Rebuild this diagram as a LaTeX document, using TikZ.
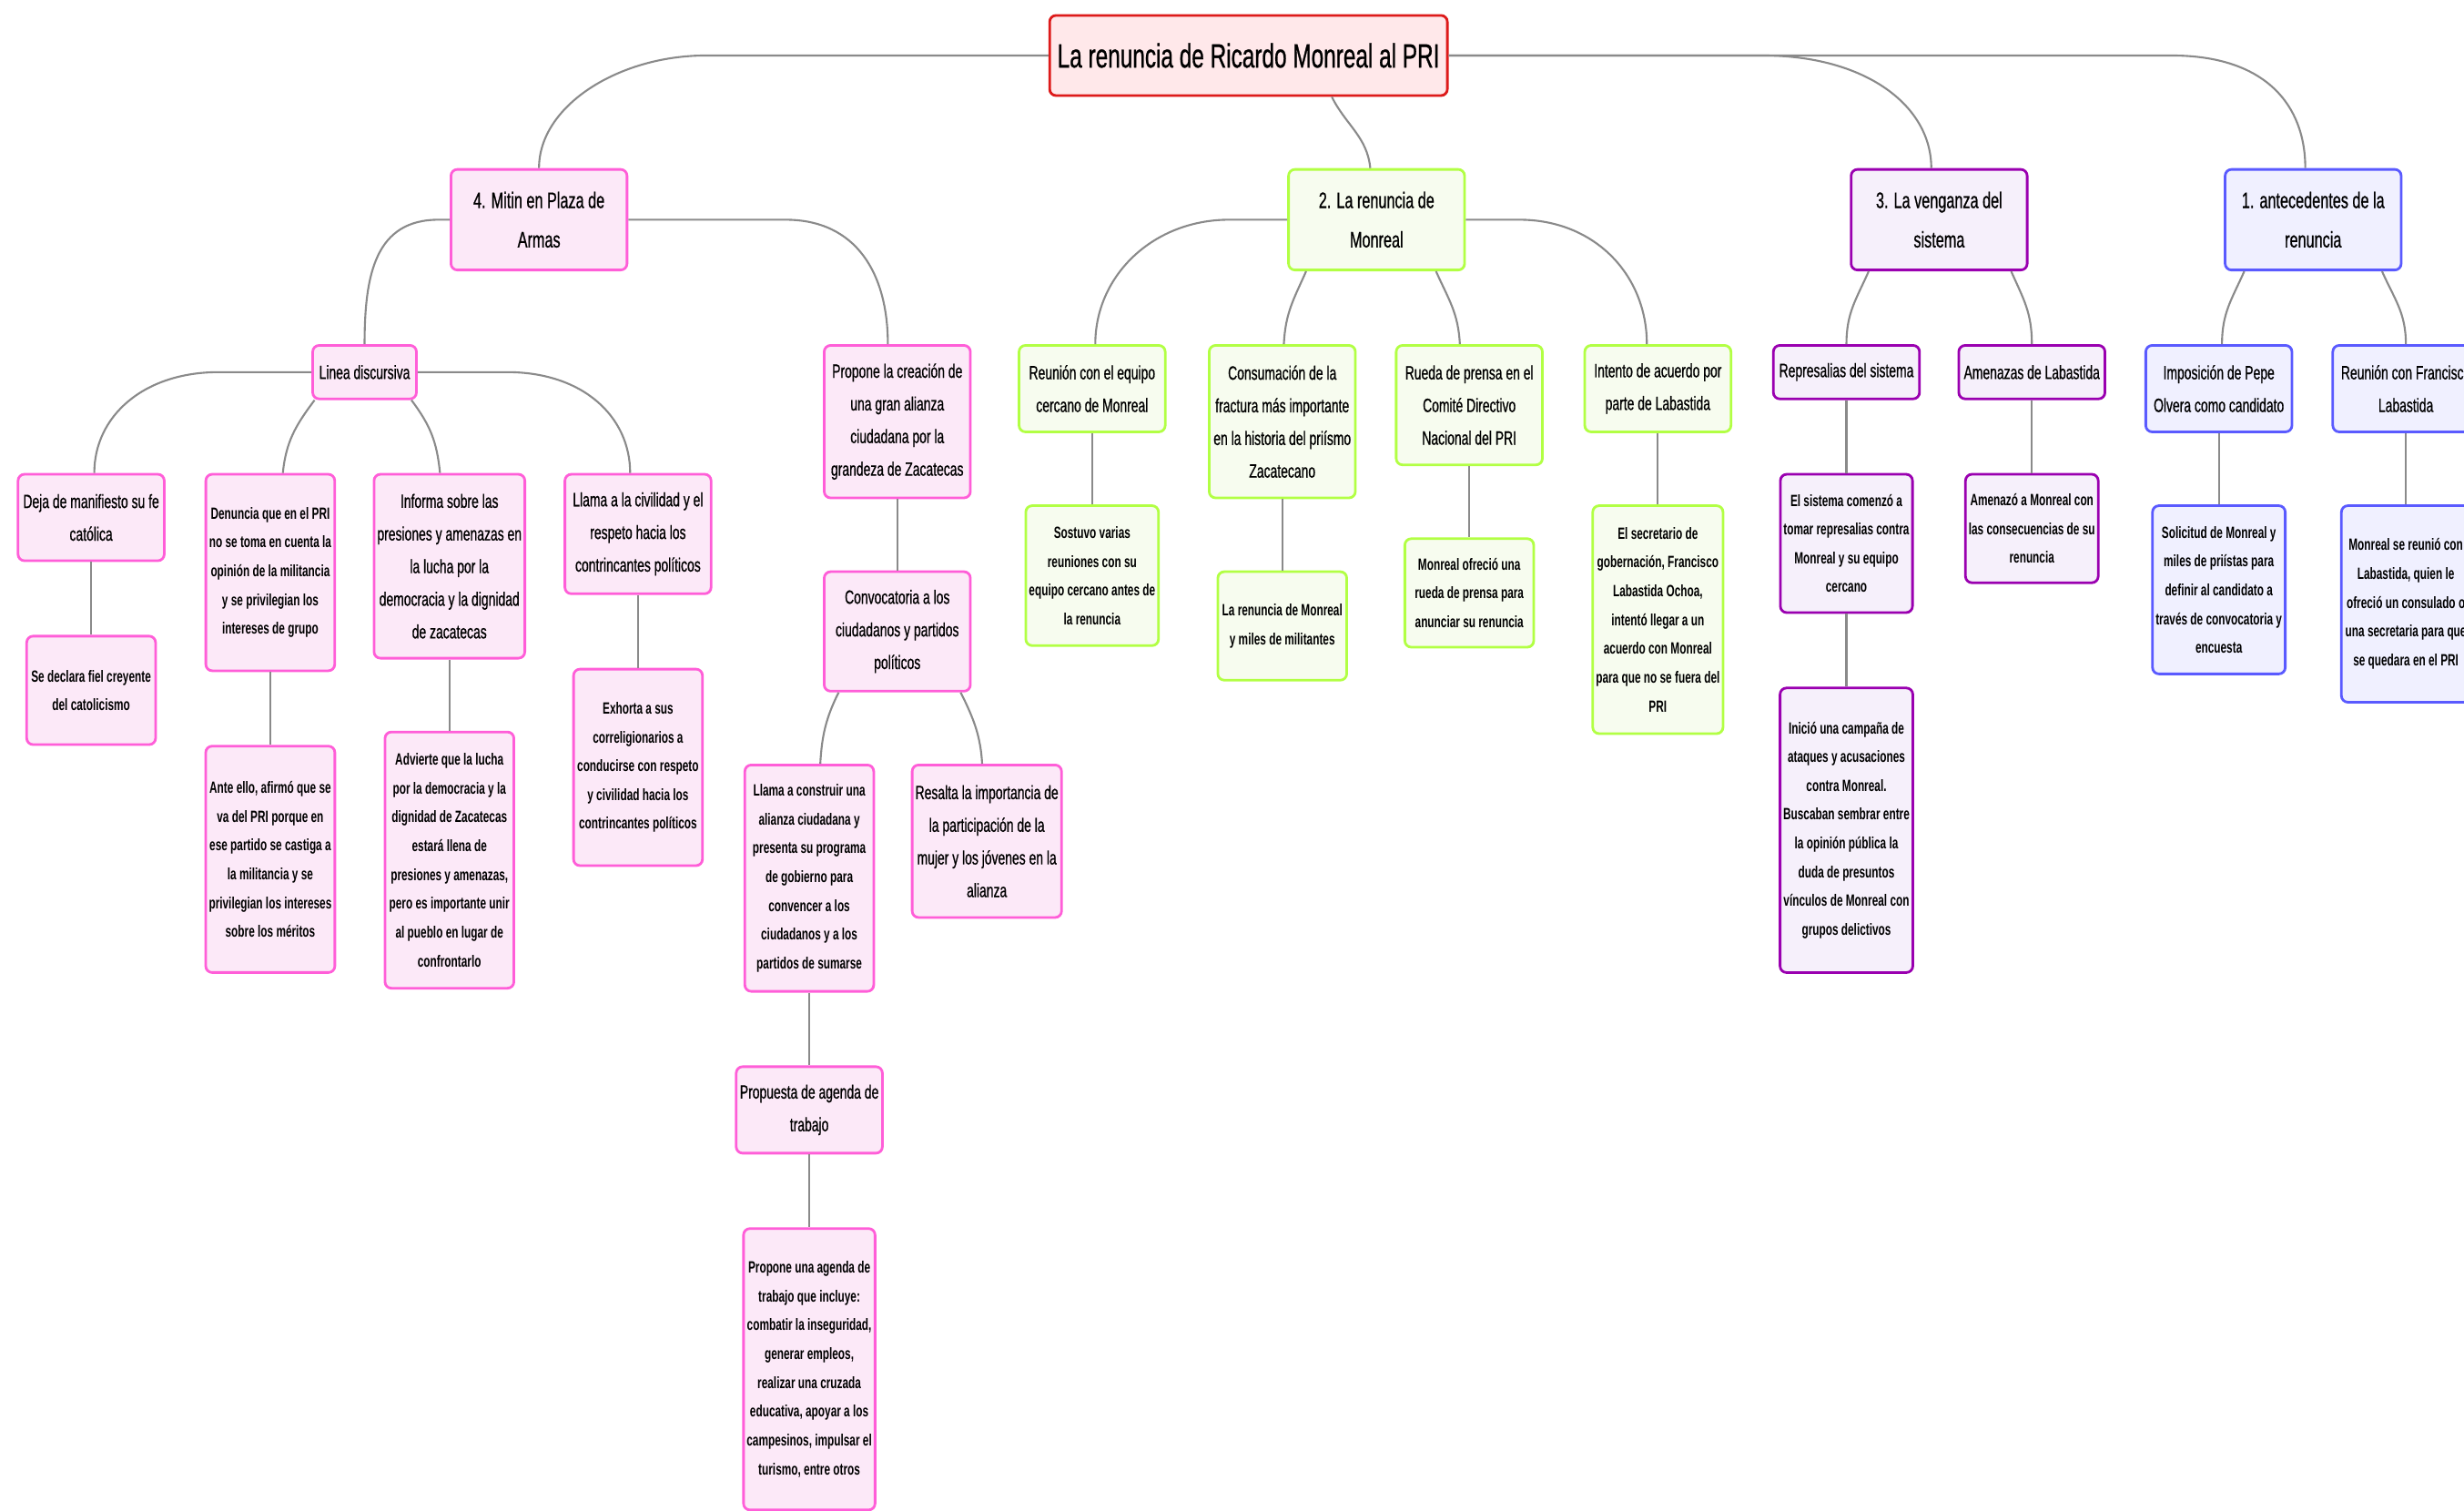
\documentclass[tikz,border=0pt]{standalone}
\usepackage{fontspec}
\setmainfont{Liberation Sans}[FakeStretch=0.66, UprightFeatures={FakeBold=0.7}]
\usetikzlibrary{calc}

\definecolor{rootline}{HTML}{DD1A1A}
\definecolor{rootfill}{HTML}{FFE8EA}
\definecolor{pinkline}{HTML}{FF5ED8}
\definecolor{pinkfill}{HTML}{FCE9F8}
\definecolor{greenline}{HTML}{B2FF44}
\definecolor{greenfill}{HTML}{F7FCEF}
\definecolor{purpleline}{HTML}{9A00B0}
\definecolor{purplefill}{HTML}{F6F0FB}
\definecolor{blueline}{HTML}{5A5AFF}
\definecolor{bluefill}{HTML}{F0F0FF}
\definecolor{linkgray}{HTML}{8A8A8A}

\tikzset{
  caja/.style={draw, rounded corners=2pt, line width=0.8pt, align=center,
    anchor=north, inner xsep=1pt, inner ysep=1pt},
  alto/.style={minimum height={#1*0.4912pt}},
  ancho/.style={minimum width={#1*0.4912pt}},
  raiz/.style={caja, draw=rootline, fill=rootfill, ancho=253, alto=51,
    font=\fontsize{10.5}{13}\selectfont},
  tema/.style={caja, ancho=112, alto=64, font=\fontsize{7}{12.3}\selectfont},
  subtema/.style={caja, ancho=93, font=\fontsize{6}{10.2}\selectfont},
  hoja/.style={caja, ancho=82, font=\bfseries\fontsize{5.1}{9}\selectfont},
  rosa/.style={draw=pinkline, fill=pinkfill},
  verde/.style={draw=greenline, fill=greenfill},
  morado/.style={draw=purpleline, fill=purplefill},
  azul/.style={draw=blueline, fill=bluefill},
  enlace/.style={draw=linkgray, line width=0.6pt},
}

\begin{document}
\begin{tikzpicture}[x=0.017264cm, y=-0.017264cm]
  \clip (0,0) rectangle (1568,961);

  % tema central
  \node[raiz] (root) at (794.5,9) {La renuncia de Ricardo Monreal al PRI};

  % temas principales
  \node[tema, rosa] (mitin) at (343,107) {4. Mitin en Plaza de\\Armas};
  \node[tema, verde] (dos) at (876,107) {2. La renuncia de\\Monreal};
  \node[tema, morado] (tres) at (1234,107) {3. La venganza del\\sistema};
  \node[tema, azul] (uno) at (1472,107) {1. antecedentes de la\\renuncia};

  % rama 4: mitin en plaza de armas
  \node[subtema, rosa, ancho=66, alto=34] (linea) at (232,219) {Linea discursiva};
  \node[subtema, rosa, alto=97] (propone) at (571,219) {Propone la creación de\\una gran alianza\\ciudadana por la\\grandeza de Zacatecas};
  \node[subtema, rosa, alto=55] (deja) at (58,301) {Deja de manifiesto su fe\\católica};
  \node[hoja, rosa, alto=125] (denuncia) at (172,301) {Denuncia que en el PRI\\no se toma en cuenta la\\opinión de la militancia\\y se privilegian los\\intereses de grupo};
  \node[subtema, rosa, alto=117] (informa) at (286,301) {Informa sobre las\\presiones y amenazas en\\la lucha por la\\democracia y la dignidad\\de zacatecas};
  \node[subtema, rosa, alto=76] (llama) at (406,301) {Llama a la civilidad y el\\respeto hacia los\\contrincantes políticos};
  \node[hoja, rosa, alto=69] (declara) at (58,404) {Se declara fiel creyente\\del catolicismo};
  \node[hoja, rosa, alto=144] (ante) at (172,474) {Ante ello, afirmó que se\\va del PRI porque en\\ese partido se castiga a\\la militancia y se\\privilegian los intereses\\sobre los méritos};
  \node[hoja, rosa, alto=163] (advierte) at (286,465) {Advierte que la lucha\\por la democracia y la\\dignidad de Zacatecas\\estará llena de\\presiones y amenazas,\\pero es importante unir\\al pueblo en lugar de\\confrontarlo};
  \node[hoja, rosa, alto=125] (exhorta) at (406,425) {Exhorta a sus\\correligionarios a\\conducirse con respeto\\y civilidad hacia los\\contrincantes políticos};
  \node[subtema, rosa, alto=76] (convoca) at (571,363) {Convocatoria a los\\ciudadanos y partidos\\políticos};
  \node[hoja, rosa, alto=144] (construir) at (515,486) {Llama a construir una\\alianza ciudadana y\\presenta su programa\\de gobierno para\\convencer a los\\ciudadanos y a los\\partidos de sumarse};
  \node[subtema, rosa, alto=97] (resalta) at (628,486) {Resalta la importancia de\\la participación de la\\mujer y los jóvenes en la\\alianza};
  \node[subtema, rosa, alto=55] (propuesta) at (515,678) {Propuesta de agenda de\\trabajo};
  \node[hoja, rosa, alto=179] (agenda) at (515,781) {Propone una agenda de\\trabajo que incluye:\\combatir la inseguridad,\\generar empleos,\\realizar una cruzada\\educativa, apoyar a los\\campesinos, impulsar el\\turismo, entre otros};

  % rama 2: la renuncia de monreal
  \node[subtema, verde, alto=55] (reunion) at (695,219) {Reunión con el equipo\\cercano de Monreal};
  \node[subtema, verde, alto=97] (consuma) at (816,219) {Consumación de la\\fractura más importante\\en la historia del priísmo\\Zacatecano};
  \node[subtema, verde, alto=76] (rueda) at (935,219) {Rueda de prensa en el\\Comité Directivo\\Nacional del PRI};
  \node[subtema, verde, alto=55] (intento) at (1055,219) {Intento de acuerdo por\\parte de Labastida};
  \node[hoja, verde, alto=89] (sostuvo) at (695,321) {Sostuvo varias\\reuniones con su\\equipo cercano antes de\\la renuncia};
  \node[hoja, verde, alto=69] (miles) at (816,363) {La renuncia de Monreal\\y miles de militantes};
  \node[hoja, verde, alto=69] (ofrecio) at (935,342) {Monreal ofreció una\\rueda de prensa para\\anunciar su renuncia};
  \node[hoja, verde, alto=145] (secretario) at (1055,321) {El secretario de\\gobernación, Francisco\\Labastida Ochoa,\\intentó llegar a un\\acuerdo con Monreal\\para que no se fuera del\\PRI};

  % rama 3: la venganza del sistema
  \node[subtema, morado, alto=34] (represalias) at (1175,219) {Represalias del sistema};
  \node[subtema, morado, alto=34] (amenazas) at (1293,219) {Amenazas de Labastida};
  \node[hoja, morado, alto=88] (sistema) at (1175,301) {El sistema comenzó a\\tomar represalias contra\\Monreal y su equipo\\cercano};
  \node[hoja, morado, alto=181] (inicio) at (1175,437) {Inició una campaña de\\ataques y acusaciones\\contra Monreal.\\Buscaban sembrar entre\\la opinión pública la\\duda de presuntos\\vínculos de Monreal con\\grupos delictivos};
  \node[hoja, morado, alto=69] (amenazo) at (1293,301) {Amenazó a Monreal con\\las consecuencias de su\\renuncia};

  % rama 1: antecedentes
  \node[subtema, azul, alto=55] (imposicion) at (1412,219) {Imposición de Pepe\\Olvera como candidato};
  \node[subtema, azul, alto=55] (francisco) at (1531,219) {Reunión con Francisco\\Labastida};
  \node[hoja, azul, alto=107] (solicitud) at (1412,321) {Solicitud de Monreal y\\miles de priístas para\\definir al candidato a\\través de convocatoria y\\encuesta};
  \node[hoja, azul, alto=125] (reunio) at (1531,321) {Monreal se reunió con\\Labastida, quien le\\ofreció un consulado o\\una secretaria para que\\se quedara en el PRI};

  % enlaces del tema central
  \draw[enlace] (root.west) -- ++(-218,0) .. controls +(-55,0) and +(0,-40) .. (mitin.north);
  \draw[enlace] ($(root.south)+(53,0)$) .. controls +(9,18) and +(-2,-20) .. ($(dos.north)+(-4,0)$);
  \draw[enlace] (root.east) -- ++(200,0) .. controls +(65,0) and +(0,-40) .. ($(tres.north)+(-5,0)$);
  \draw[enlace] (root.east) -- ++(460,0) .. controls +(60,0) and +(0,-40) .. ($(uno.north)+(-5,0)$);

  % enlaces rama 4
  \draw[enlace] (mitin.west) -- ++(-7,0) .. controls +(-40,0) and +(0,-45) .. (linea.north);
  \draw[enlace] (mitin.east) -- ++(100,0) .. controls +(45,0) and +(0,-45) .. ($(propone.north)+(-6,0)$);
  \draw[enlace] (linea.west) -- ++(-59,0) .. controls +(-48,0) and +(0,-36) .. ($(deja.north)+(2,0)$);
  \draw[enlace] ($(linea.south west)+(2,0)$) .. controls +(-12,16) and +(2,-20) .. ($(denuncia.north)+(8,0)$);
  \draw[enlace] ($(linea.south east)+(-4,0)$) .. controls +(12,16) and +(-2,-20) .. ($(informa.north)+(-6,0)$);
  \draw[enlace] (linea.east) -- ++(57,0) .. controls +(48,0) and +(0,-36) .. ($(llama.north)+(-5,0)$);
  \draw[enlace] (deja) -- (declara);
  \draw[enlace] (denuncia) -- (ante);
  \draw[enlace] (informa) -- (advierte);
  \draw[enlace] (llama) -- (exhorta);
  \draw[enlace] (propone) -- (convoca);
  \draw[enlace] ($(convoca.south west)+(10,0)$) .. controls +(-8,16) and +(1,-18) .. ($(construir.north)+(7,0)$);
  \draw[enlace] ($(convoca.south east)+(-7,0)$) .. controls +(8,16) and +(-1,-18) .. ($(resalta.north)+(-3,0)$);
  \draw[enlace] (construir) -- (propuesta);
  \draw[enlace] (propuesta) -- (agenda);

  % enlaces rama 2
  \draw[enlace] (dos.west) -- ++(-37,0) .. controls +(-48,0) and +(0,-44) .. ($(reunion.north)+(2,0)$);
  \draw[enlace] ($(dos.south west)+(12,0)$) .. controls +(-8,18) and +(1,-20) .. ($(consuma.north)+(1,0)$);
  \draw[enlace] ($(dos.south east)+(-19,0)$) .. controls +(8,18) and +(-1,-20) .. ($(rueda.north)+(-6,0)$);
  \draw[enlace] (dos.east) -- ++(34,0) .. controls +(48,0) and +(0,-44) .. ($(intento.north)+(-7,0)$);
  \draw[enlace] (reunion) -- (sostuvo);
  \draw[enlace] (consuma) -- (miles);
  \draw[enlace] (rueda) -- (ofrecio);
  \draw[enlace] (intento) -- (secretario);

  % enlaces rama 3
  \draw[enlace] ($(tres.south west)+(12,0)$) .. controls +(-8,18) and +(0,-20) .. (represalias.north);
  \draw[enlace] ($(tres.south east)+(-11,0)$) .. controls +(8,18) and +(0,-20) .. (amenazas.north);
  \draw[enlace] (represalias) -- (sistema);
  \draw[enlace] (sistema) -- (inicio);
  \draw[enlace] (amenazas) -- (amenazo);

  % enlaces rama 1
  \draw[enlace] ($(uno.south west)+(13,0)$) .. controls +(-8,18) and +(0,-20) .. ($(imposicion.north)+(2,0)$);
  \draw[enlace] ($(uno.south east)+(-13,0)$) .. controls +(8,18) and +(0,-20) .. (francisco.north);
  \draw[enlace] (imposicion) -- (solicitud);
  \draw[enlace] (francisco) -- (reunio);
\end{tikzpicture}
\end{document}
